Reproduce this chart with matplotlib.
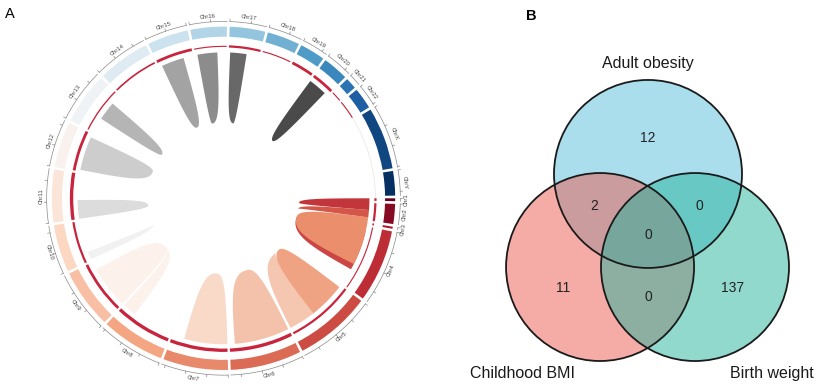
"""Circos-style chromosome ring (A) and three-set Venn diagram (B) -> out.png."""

import numpy as np
import matplotlib
matplotlib.use("Agg")
import matplotlib.pyplot as plt
from matplotlib.patches import Circle, Polygon, Wedge

plt.rcParams["font.family"] = ["Liberation Sans", "DejaVu Sans"]

# ---------------- panel A data ----------------
chroms = ["Chr1", "Chr2", "Chr3", "Chr4", "Chr5", "Chr6", "Chr7", "Chr8",
          "Chr9", "Chr10", "Chr11", "Chr12", "Chr13", "Chr14", "Chr15", "Chr16",
          "Chr17", "Chr18", "Chr19", "Chr20", "Chr21", "Chr22", "ChrX", "ChrY"]
chrom_len = [7, 49, 5, 178, 188, 174, 159, 156, 146, 116, 129, 112,
             127, 128, 101, 89, 87, 80, 62, 63, 28, 52, 152, 60]
track_val = [2, 2, 1.5, 1, 2, 3, 3, 3, 2.5, 2, 3, 2.5,
             1.2, 1.5, 2.5, 1, 2, 1, 2.5, 2.5, 1, 1, 0, 0]

# links: region (chr, start) .. (end_chr, end) -> tip at (tip_chr, tip_pos)
link_chr = ["Chr9", "Chr8", "Chr10", "Chr11", "Chr12", "Chr13", "Chr15", "Chr16",
            "Chr17", "Chr20", "Chr7", "Chr6", "Chr5", "Chr5", "Chr4", "Chr2",
            "Chr2", "Chr1"]
link_start = [0, 117, 3, 0.5, 5, 44, 8, 6, 4, 0.5, 0, 1, 97, 6, 14, 40.7, 19.8, 0]
link_end_chr = ["Chr9", "Chr8", "Chr10", "Chr11", "Chr12", "Chr13", "Chr15", "Chr16",
                "Chr17", "Chr20", "Chr7", "Chr6", "Chr5", "Chr5", "Chr4", "Chr4",
                "Chr2", "Chr2"]
link_end = [122, 156, 25, 54, 102, 98, 73, 63, 51, 54, 124, 159, 188, 111, 130, 113, 40.7, 19.8]
link_tip_chr = ["Chr9", "Chr9", "Chr10", "Chr11", "Chr12", "Chr13", "Chr15", "Chr16",
                "Chr17", "Chr20", "Chr7", "Chr6", "Chr5", "Chr5", "Chr4", "Chr4",
                "Chr2", "Chr2"]
link_tip = [37, 37, 30, 20, 73, 61, 39, 18, 38, 30, 47, 62, 68, 46, 23, 23, 44, 11]
link_color = ["#fdf1eb", "#fdf1eb", "#f1f1f1", "#dcdcdc", "#cdcdcd", "#b5b5b5",
              "#a3a3a3", "#8c8c8c", "#686868", "#4a4a4a", "#f9dac9", "#f4c2aa",
              "#f5c6b0", "#f0a383", "#cd4646", "#eb8e6c", "#d45649", "#c2353b"]

# ---------------- panel B data ----------------
venn_sets = ["Adult obesity", "Childhood BMI", "Birth weight"]
venn_colors = ["#56bfdc", "#ec5b50", "#25b39c"]
region_keys = ["100", "010", "001", "110", "101", "011", "111"]
region_counts = [12, 11, 137, 2, 0, 0, 0]

# ---------------- layout ----------------
FIG_W, FIG_H = 820, 390
CIRC_C = (223.5, 198.3)      # circle centre, px
CIRC_R = 171.7               # outer ring radius, px
GAP = 0.9                    # degrees between sectors
VENN_O = (648, 236)          # venn origin, px
VENN_U = 94                  # venn circle radius, px
venn_centers = [(0, 0.66), (-0.51, -0.33), (0.50, -0.33)]
venn_label_xy = [(0, 1.84), (-1.33, -1.46), (1.32, -1.46)]
region_xy = {"100": (0, 1.04), "010": (-0.90, -0.55), "001": (0.90, -0.55),
             "110": (-0.57, 0.32), "101": (0.55, 0.32), "011": (0, -0.65),
             "111": (0, 0.01)}

R_IN, R_OUT = 0.941, 1.0
R_TRACK = 0.885
R_LINK, R_TIP = 0.85, 0.44
R_TICK, R_LAB = 1.03, 1.062


def polar(r, a):
    return np.array([r * np.cos(a), r * np.sin(a)])


def cubic(p0, p1, p2, p3, n=40):
    t = np.linspace(0, 1, n)[:, None]
    return (1 - t) ** 3 * p0 + 3 * (1 - t) ** 2 * t * p1 + 3 * (1 - t) * t ** 2 * p2 + t ** 3 * p3


def main():
    fig = plt.figure(figsize=(FIG_W / 100, FIG_H / 100), dpi=100)

    # ---- A: circos ----
    axw = 430
    ax = fig.add_axes([0, 0, axw / FIG_W, 1])
    ax.set_xlim(-CIRC_C[0] / CIRC_R, (axw - CIRC_C[0]) / CIRC_R)
    ax.set_ylim(-(FIG_H - CIRC_C[1]) / CIRC_R, CIRC_C[1] / CIRC_R)
    ax.axis("off")

    n = len(chroms)
    scale = (360 - GAP * n) / sum(chrom_len)
    starts = np.concatenate([[0], np.cumsum(np.array(chrom_len) * scale + GAP)[:-1]])
    idx = {c: i for i, c in enumerate(chroms)}
    cmap = plt.get_cmap("RdBu")

    def ang(c, pos):
        return np.deg2rad(-(starts[idx[c]] + pos * scale))

    ax.add_patch(Circle((0, 0), R_TRACK, fill=False, lw=0.6, ec="#e9e9e9", zorder=1))

    for i, c in enumerate(chroms):
        a0 = starts[i]
        a1 = a0 + chrom_len[i] * scale
        ax.add_patch(Wedge((0, 0), R_OUT, -a1, -a0, width=R_OUT - R_IN,
                           fc=cmap(i / (n - 1)), ec="none", zorder=3))
        if track_val[i] > 0:
            w = track_val[i] * 0.0065
            ax.add_patch(Wedge((0, 0), R_TRACK + w / 2, -a1, -a0, width=w,
                               fc="#c9243d", ec="none", zorder=2))
        # axis arc with ticks
        th = np.deg2rad(-np.linspace(a0, a1, 30))
        ax.plot(R_TICK * np.cos(th), R_TICK * np.sin(th), color="#8a8a8a", lw=0.5, zorder=3)
        for p in np.arange(0, chrom_len[i] + 1e-9, 50):
            t = ang(c, p)
            ax.plot([R_TICK * np.cos(t), (R_TICK + 0.014) * np.cos(t)],
                    [R_TICK * np.sin(t), (R_TICK + 0.014) * np.sin(t)],
                    color="#8a8a8a", lw=0.5, zorder=3)
        # label
        mid = -(a0 + a1) / 2
        rot = mid - 90 if 0 < (mid % 360) < 180 else mid + 90
        tm = np.deg2rad(mid)
        ax.text(R_LAB * np.cos(tm), R_LAB * np.sin(tm), c, fontsize=4.2, color="#444444",
                rotation=rot, rotation_mode="anchor", ha="center", va="center", zorder=4)

    # links: wedge-like ribbons with a rounded cap at the inner end
    for c, s, ec, e, tc, tp, col in zip(link_chr, link_start, link_end_chr, link_end,
                                        link_tip_chr, link_tip, link_color):
        a1, a2, at = ang(c, s), ang(ec, e), ang(tc, tp)
        arc = np.array([polar(R_LINK, a) for a in np.linspace(a1, a2, 40)])
        rm = R_LINK - 0.7 * (R_LINK - R_TIP)
        side2 = cubic(polar(R_LINK, a2), polar(rm, a2),
                      polar(R_TIP, at + 0.9 * (a2 - at)), polar(R_TIP, at))
        side1 = cubic(polar(R_TIP, at), polar(R_TIP, at + 0.9 * (a1 - at)),
                      polar(rm, a1), polar(R_LINK, a1))
        pts = np.vstack([arc, side2, side1])
        ax.add_patch(Polygon(pts, closed=True, fc=col, ec="none", zorder=2))

    # ---- B: venn ----
    bx = fig.add_axes([430 / FIG_W, 0, (FIG_W - 430) / FIG_W, 1])
    bx.set_xlim((430 - VENN_O[0]) / VENN_U, (FIG_W - VENN_O[0]) / VENN_U)
    bx.set_ylim(-(FIG_H - VENN_O[1]) / VENN_U, VENN_O[1] / VENN_U)
    bx.axis("off")
    for (cx, cy), col in zip(venn_centers, venn_colors):
        bx.add_patch(Circle((cx, cy), 1.0, fc=col, alpha=0.5, ec="none", zorder=1))
    for (cx, cy) in venn_centers:
        bx.add_patch(Circle((cx, cy), 1.0, fill=False, ec="#1a1a1a", lw=1.3, zorder=2))
    for name, (x, y) in zip(venn_sets, venn_label_xy):
        bx.text(x, y, name, fontsize=11.5, ha="center", va="center", color="#1a1a1a")
    for k, v in zip(region_keys, region_counts):
        x, y = region_xy[k]
        bx.text(x, y, str(v), fontsize=10, ha="center", va="center", color="#222222", zorder=3)

    fig.text(10 / FIG_W, 1 - 14 / FIG_H, "A", fontsize=10.5, ha="center", va="center")
    fig.text(531 / FIG_W, 1 - 16 / FIG_H, "B", fontsize=10.5, fontweight="bold",
             ha="center", va="center")

    fig.savefig("out.png", dpi=100)


if __name__ == "__main__":
    main()
